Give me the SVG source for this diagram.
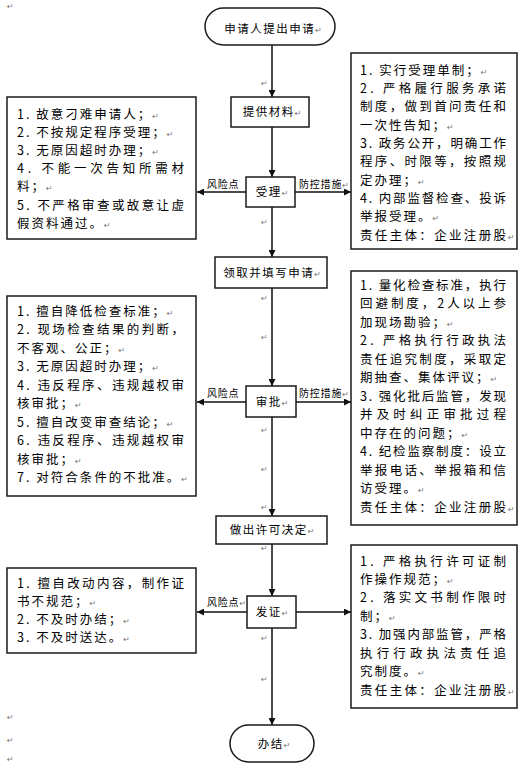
<svg xmlns="http://www.w3.org/2000/svg" width="523" height="771" viewBox="0 0 523 771">
<style>
.box{fill:#fff;stroke:#1a1a1a;stroke-width:1.5}
.ln{fill:none;stroke:#111;stroke-width:1.5}
.t{font-family:"Noto Sans CJK SC","Noto Sans",sans-serif;font-size:12.5px;letter-spacing:2px;fill:#000}
.j{font-family:"Noto Sans CJK SC","Noto Sans",sans-serif;font-size:12.5px;fill:#000}
.n{font-family:"Noto Sans CJK SC","Noto Sans",sans-serif;font-size:11.5px;letter-spacing:1.5px;fill:#000;text-anchor:middle}
.l{font-family:"Noto Sans CJK SC","Noto Sans",sans-serif;font-size:10px;letter-spacing:0.8px;fill:#000}
.r{font-family:"DejaVu Sans",sans-serif;font-size:8px;fill:#777;letter-spacing:0}
</style>
<defs>
<marker id="ah" viewBox="0 0 10 10" refX="10" refY="5" markerWidth="8" markerHeight="7" markerUnits="userSpaceOnUse" orient="auto"><path d="M0,0 L10,5 L0,10 z" fill="#111"/></marker>
</defs>

<g id="margin-marks">
<text class="r" x="7" y="9">↵</text>
<text class="r" x="7" y="720">↵</text>
<text class="r" x="7" y="743">↵</text>
<text class="r" x="7" y="762">↵</text>
<text class="r" x="261" y="86">↵</text>
<text class="r" x="261" y="225">↵</text>
<text class="r" x="261" y="301">↵</text>
<text class="r" x="261" y="340">↵</text>
<text class="r" x="261" y="433">↵</text>
<text class="r" x="261" y="472">↵</text>
<text class="r" x="261" y="510">↵</text>
<text class="r" x="261" y="551">↵</text>
<text class="r" x="261" y="641">↵</text>
<text class="r" x="261" y="682">↵</text>
</g>

<g id="connectors">
<line class="ln" x1="272" y1="45" x2="272" y2="97" marker-end="url(#ah)"/>
<line class="ln" x1="272" y1="127" x2="272" y2="177" marker-end="url(#ah)"/>
<line class="ln" x1="272" y1="207" x2="272" y2="257" marker-end="url(#ah)"/>
<line class="ln" x1="272" y1="288" x2="272" y2="386" marker-end="url(#ah)"/>
<line class="ln" x1="272" y1="417" x2="272" y2="516" marker-end="url(#ah)"/>
<line class="ln" x1="272" y1="544" x2="272" y2="596" marker-end="url(#ah)"/>
<line class="ln" x1="272" y1="628" x2="272" y2="725" marker-end="url(#ah)"/>
<line class="ln" x1="246" y1="192" x2="197" y2="192" marker-end="url(#ah)"/>
<line class="ln" x1="295" y1="192" x2="351" y2="192" marker-end="url(#ah)"/>
<line class="ln" x1="246" y1="402" x2="197" y2="402" marker-end="url(#ah)"/>
<line class="ln" x1="296" y1="402" x2="351" y2="402" marker-end="url(#ah)"/>
<line class="ln" x1="247" y1="612" x2="197" y2="612" marker-end="url(#ah)"/>
<line class="ln" x1="296" y1="612" x2="351" y2="612" marker-end="url(#ah)"/>
<text class="l" x="207" y="188">风险点</text>
<text class="l" x="299" y="188">防控措施<tspan class="r">↵</tspan></text>
<text class="l" x="207" y="397">风险点</text>
<text class="l" x="299" y="397">防控措施<tspan class="r">↵</tspan></text>
<text class="l" x="207" y="606">风险点<tspan class="r">↵</tspan></text>
</g>

<g id="start">
<rect class="box" x="205" y="8" width="130" height="37" rx="18.5"/>
<text class="n" x="273" y="32.5">申请人提出申请<tspan class="r">↵</tspan></text>
</g>
<g id="submit">
<rect class="box" x="231" y="97" width="78" height="30"/>
<text class="n" x="272" y="116">提供材料<tspan class="r">↵</tspan></text>
</g>
<g id="accept">
<rect class="box" x="246" y="177" width="49" height="30"/>
<text class="n" x="272" y="196">受理<tspan class="r">↵</tspan></text>
</g>
<g id="fill">
<rect class="box" x="215" y="257" width="112" height="31"/>
<text class="n" x="272" y="277">领取并填写申请<tspan class="r">↵</tspan></text>
</g>
<g id="approve">
<rect class="box" x="246" y="386" width="50" height="31"/>
<text class="n" x="272" y="406">审批<tspan class="r">↵</tspan></text>
</g>
<g id="decide">
<rect class="box" x="216" y="516" width="111" height="28"/>
<text class="n" x="272" y="534">做出许可决定<tspan class="r">↵</tspan></text>
</g>
<g id="issue">
<rect class="box" x="247" y="596" width="49" height="32"/>
<text class="n" x="272" y="616">发证<tspan class="r">↵</tspan></text>
</g>
<g id="end">
<rect class="box" x="230" y="725" width="84" height="37" rx="18.5"/>
<text class="n" x="274" y="748">办结<tspan class="r">↵</tspan></text>
</g>

<g id="risk-accept">
<rect class="box" x="7" y="97" width="189" height="142"/>
<text class="t" x="17" y="118.5">1. 故意刁难申请人；<tspan class="r">↵</tspan></text>
<text class="t" x="17" y="136.7">2. 不按规定程序受理；<tspan class="r">↵</tspan></text>
<text class="t" x="17" y="154.9">3. 无原因超时办理；<tspan class="r">↵</tspan></text>
<text class="j" x="17" y="173.1" textLength="167" lengthAdjust="spacing">4. 不能一次告知所需材</text>
<text class="t" x="17" y="191.3">料；<tspan class="r">↵</tspan></text>
<text class="j" x="17" y="209.5" textLength="167" lengthAdjust="spacing">5. 不严格审查或故意让虚</text>
<text class="t" x="17" y="227.7">假资料通过。<tspan class="r">↵</tspan></text>
</g>

<g id="control-accept">
<rect class="box" x="351" y="53" width="166" height="196"/>
<text class="t" x="360" y="74.5">1. 实行受理单制；<tspan class="r">↵</tspan></text>
<text class="j" x="360" y="92.8" textLength="146" lengthAdjust="spacing">2. 严格履行服务承诺</text>
<text class="j" x="360" y="111.2" textLength="146" lengthAdjust="spacing">制度，做到首问责任和</text>
<text class="t" x="360" y="129.5">一次性告知；<tspan class="r">↵</tspan></text>
<text class="j" x="360" y="147.8" textLength="146" lengthAdjust="spacing">3. 政务公开，明确工作</text>
<text class="j" x="360" y="166.2" textLength="146" lengthAdjust="spacing">程序、时限等，按照规</text>
<text class="t" x="360" y="184.5">定办理；<tspan class="r">↵</tspan></text>
<text class="j" x="360" y="202.8" textLength="146" lengthAdjust="spacing">4. 内部监督检查、投诉</text>
<text class="t" x="360" y="221.2">举报受理。<tspan class="r">↵</tspan></text>
<text class="j" x="360" y="239.5" textLength="146" lengthAdjust="spacing">责任主体：企业注册股</text><text class="r" x="508" y="239.5">↵</text>
</g>

<g id="risk-approve">
<rect class="box" x="7" y="296" width="189" height="200"/>
<text class="t" x="17" y="315.5">1. 擅自降低检查标准；<tspan class="r">↵</tspan></text>
<text class="j" x="17" y="334" textLength="167" lengthAdjust="spacing">2. 现场检查结果的判断，</text>
<text class="t" x="17" y="352.6">不客观、公正；<tspan class="r">↵</tspan></text>
<text class="t" x="17" y="371.1">3. 无原因超时办理；<tspan class="r">↵</tspan></text>
<text class="j" x="17" y="389.7" textLength="167" lengthAdjust="spacing">4. 违反程序、违规越权审</text>
<text class="t" x="17" y="408.2">核审批；<tspan class="r">↵</tspan></text>
<text class="t" x="17" y="426.8">5. 擅自改变审查结论；<tspan class="r">↵</tspan></text>
<text class="j" x="17" y="445.3" textLength="167" lengthAdjust="spacing">6. 违反程序、违规越权审</text>
<text class="t" x="17" y="463.9">核审批；<tspan class="r">↵</tspan></text>
<text class="t" x="17" y="482.4">7. 对符合条件的不批准。<tspan class="r">↵</tspan></text>
</g>

<g id="control-approve">
<rect class="box" x="351" y="271" width="166" height="254"/>
<text class="j" x="360" y="289.5" textLength="146" lengthAdjust="spacing">1. 量化检查标准，执行</text>
<text class="j" x="360" y="308" textLength="146" lengthAdjust="spacing">回避制度，2人以上参</text>
<text class="t" x="360" y="326.5">加现场勘验；<tspan class="r">↵</tspan></text>
<text class="j" x="360" y="345" textLength="146" lengthAdjust="spacing">2. 严格执行行政执法</text>
<text class="j" x="360" y="363.5" textLength="146" lengthAdjust="spacing">责任追究制度，采取定</text>
<text class="t" x="360" y="382">期抽查、集体评议；<tspan class="r">↵</tspan></text>
<text class="j" x="360" y="400.5" textLength="146" lengthAdjust="spacing">3. 强化批后监管，发现</text>
<text class="j" x="360" y="419" textLength="146" lengthAdjust="spacing">并及时纠正审批过程</text>
<text class="t" x="360" y="437.5">中存在的问题；<tspan class="r">↵</tspan></text>
<text class="j" x="360" y="456" textLength="146" lengthAdjust="spacing">4. 纪检监察制度：设立</text>
<text class="j" x="360" y="474.5" textLength="146" lengthAdjust="spacing">举报电话、举报箱和信</text>
<text class="t" x="360" y="493">访受理。<tspan class="r">↵</tspan></text>
<text class="j" x="360" y="511.5" textLength="146" lengthAdjust="spacing">责任主体：企业注册股</text><text class="r" x="508" y="511.5">↵</text>
</g>

<g id="risk-issue">
<rect class="box" x="7" y="568" width="189" height="85"/>
<text class="j" x="17" y="587.5" textLength="167" lengthAdjust="spacing">1. 擅自改动内容，制作证</text>
<text class="t" x="17" y="605.7">书不规范；<tspan class="r">↵</tspan></text>
<text class="t" x="17" y="623.9">2. 不及时办结；<tspan class="r">↵</tspan></text>
<text class="t" x="17" y="642">3. 不及时送达。<tspan class="r">↵</tspan></text>
</g>

<g id="control-issue">
<rect class="box" x="351" y="545" width="166" height="163"/>
<text class="j" x="360" y="565.5" textLength="146" lengthAdjust="spacing">1. 严格执行许可证制</text>
<text class="t" x="360" y="583.9">作操作规范；<tspan class="r">↵</tspan></text>
<text class="j" x="360" y="602.4" textLength="146" lengthAdjust="spacing">2. 落实文书制作限时</text>
<text class="t" x="360" y="620.8">制；<tspan class="r">↵</tspan></text>
<text class="j" x="360" y="639.2" textLength="146" lengthAdjust="spacing">3. 加强内部监管，严格</text>
<text class="j" x="360" y="657.7" textLength="146" lengthAdjust="spacing">执行行政执法责任追</text>
<text class="t" x="360" y="676.1">究制度。<tspan class="r">↵</tspan></text>
<text class="j" x="360" y="694.5" textLength="146" lengthAdjust="spacing">责任主体：企业注册股</text><text class="r" x="508" y="694.5">↵</text>
</g>
</svg>
